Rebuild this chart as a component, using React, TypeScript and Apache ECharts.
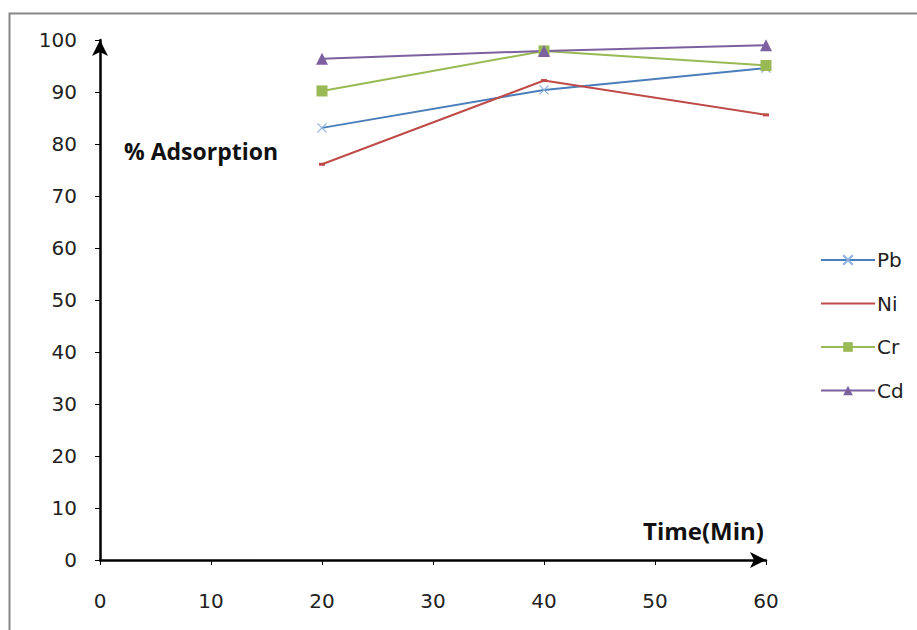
import React, { useEffect, useRef } from "react";
import * as echarts from "echarts";

const times = [20, 40, 60];
const pb = [83.1, 90.4, 94.6];
const ni = [76.1, 92.2, 85.6];
const cr = [90.2, 97.9, 95.1];
const cd = [96.4, 97.9, 99.0];
const seriesNames = ["Pb", "Ni", "Cr", "Cd"];

const FONT = "DejaVu Sans";
const TFONT = "Open Sans";

export default function App() {
  const ref = useRef<HTMLDivElement>(null);
  useEffect(() => {
    if (!ref.current) return;
    const chart = echarts.init(ref.current, undefined, { renderer: "svg" });
    const toPts = (arr: number[]) => times.map((t, i) => [t, arr[i]]);
    chart.setOption({
      animation: false,
      backgroundColor: "#ffffff",
      grid: { left: 100, right: 151, top: 40, bottom: 70, containLabel: false },
      xAxis: {
        type: "value",
        min: 0,
        max: 60,
        interval: 10,
        splitLine: { show: false },
        axisLine: {
          lineStyle: { color: "#000", width: 2.5 },
          symbol: ["none", "arrow"],
          symbolSize: [12, 16],
        },
        axisTick: { show: true, length: 5, lineStyle: { color: "#000", width: 1 } },
        axisLabel: { color: "#222", fontSize: 20, fontFamily: FONT, margin: 31 },
      },
      yAxis: {
        type: "value",
        min: 0,
        max: 100,
        interval: 10,
        splitLine: { show: false },
        axisLine: {
          show: true,
          lineStyle: { color: "#000", width: 2.5 },
          symbol: ["none", "arrow"],
          symbolSize: [12, 16],
        },
        axisTick: { show: true, length: 5, lineStyle: { color: "#000", width: 1 } },
        axisLabel: { color: "#222", fontSize: 20, fontFamily: FONT, margin: 23 },
      },
      legend: {
        orient: "vertical",
        left: 815,
        top: 245,
        itemWidth: 54,
        itemHeight: 12,
        itemGap: 23.5,
        textStyle: { fontSize: 20, fontFamily: FONT, color: "#222", padding: [0, 0, 0, -3] },
        data: [
          { name: "Pb" },
          { name: "Ni", itemStyle: { color: "rgba(0,0,0,0)", borderWidth: 0 } },
          { name: "Cr" },
          { name: "Cd" },
        ],
      },
      graphic: [
        {
          type: "rect",
          shape: { x: 9.5, y: 13.5, width: 1000, height: 1000 },
          style: { fill: "none", stroke: "#888", lineWidth: 2 },
          silent: true,
          z: -1,
        },
        {
          type: "text",
          left: 124,
          top: 139,
          style: { text: "% Adsorption", fontSize: 23, fontWeight: "bold", fontFamily: TFONT, fill: "#111" },
        },
        {
          type: "text",
          left: 643,
          top: 518,
          style: { text: "Time(Min)", fontSize: 24, fontWeight: "bold", fontFamily: TFONT, fill: "#111" },
        },
      ],
      series: [
        {
          name: "Pb",
          type: "line",
          data: toPts(pb),
          symbol: "path://M0,0L10,10M10,0L0,10",
          symbolSize: 9,
          lineStyle: { color: "#4A7EBB", width: 2 },
          itemStyle: { color: "rgba(0,0,0,0)", borderColor: "#8AB0DE", borderWidth: 1.2 },
        },
        {
          name: "Ni",
          type: "line",
          data: toPts(ni),
          symbol: "rect",
          symbolSize: [6, 3],
          lineStyle: { color: "#BE4B48", width: 2 },
          itemStyle: { color: "#BE4B48" },
        },
        {
          name: "Cr",
          type: "line",
          data: toPts(cr),
          symbol: "rect",
          symbolSize: 11,
          lineStyle: { color: "#98B954", width: 2 },
          itemStyle: { color: "#98B954" },
        },
        {
          name: "Cd",
          type: "line",
          data: toPts(cd),
          symbol: "triangle",
          symbolSize: 12,
          lineStyle: { color: "#7D60A0", width: 2 },
          itemStyle: { color: "#7D60A0" },
        },
      ],
    });
    return () => chart.dispose();
  }, []);
  return (
    <div
      ref={ref}
      style={{ position: "absolute", left: 0, top: 0, width: 917, height: 630 }}
    />
  );
}
